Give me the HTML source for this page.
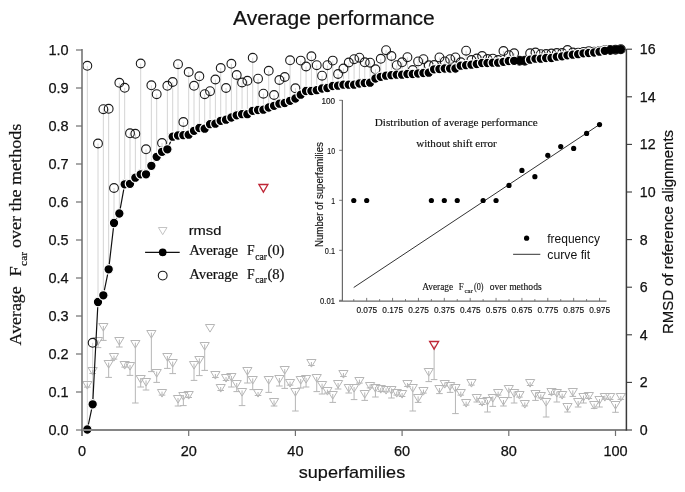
<!DOCTYPE html><html><head><meta charset="utf-8"><style>html,body{margin:0;padding:0;background:#fff;}svg{display:block;will-change:transform;}</style></head><body>
<svg width="685" height="492" viewBox="0 0 685 492">
<rect width="685" height="492" fill="#fff"/>
<text x="233" y="24.6" font-family="Liberation Sans, sans-serif" font-size="19.3" stroke="#111" stroke-width="0.2" textLength="201.8" lengthAdjust="spacingAndGlyphs" fill="#111">Average performance</text>
<g stroke="#d4d4d4" stroke-width="1">
<line x1="87.33" y1="65.8" x2="87.33" y2="429.5"/>
<line x1="92.67" y1="342.8" x2="92.67" y2="404.3"/>
<line x1="98.00" y1="143.5" x2="98.00" y2="302.0"/>
<line x1="103.34" y1="109.2" x2="103.34" y2="295.3"/>
<line x1="108.67" y1="108.8" x2="108.67" y2="269.3"/>
<line x1="114.01" y1="188.0" x2="114.01" y2="223.0"/>
<line x1="119.34" y1="82.8" x2="119.34" y2="213.5"/>
<line x1="124.68" y1="87.8" x2="124.68" y2="184.3"/>
<line x1="130.01" y1="133.3" x2="130.01" y2="183.8"/>
<line x1="135.35" y1="133.8" x2="135.35" y2="177.7"/>
<line x1="140.69" y1="63.5" x2="140.69" y2="174.3"/>
<line x1="146.02" y1="149.3" x2="146.02" y2="174.3"/>
<line x1="151.36" y1="85.3" x2="151.36" y2="165.8"/>
<line x1="156.69" y1="94.2" x2="156.69" y2="156.8"/>
<line x1="162.03" y1="143.0" x2="162.03" y2="151.8"/>
<line x1="167.36" y1="85.8" x2="167.36" y2="149.3"/>
<line x1="172.69" y1="82.0" x2="172.69" y2="136.7"/>
<line x1="178.03" y1="64.2" x2="178.03" y2="135.5"/>
<line x1="183.37" y1="122.0" x2="183.37" y2="135.2"/>
<line x1="188.70" y1="72.0" x2="188.70" y2="134.7"/>
<line x1="194.03" y1="85.8" x2="194.03" y2="130.8"/>
<line x1="199.37" y1="76.3" x2="199.37" y2="128.0"/>
<line x1="204.70" y1="94.2" x2="204.70" y2="128.7"/>
<line x1="210.04" y1="91.2" x2="210.04" y2="124.2"/>
<line x1="215.38" y1="79.5" x2="215.38" y2="123.7"/>
<line x1="220.71" y1="68.0" x2="220.71" y2="120.8"/>
<line x1="226.04" y1="88.0" x2="226.04" y2="119.7"/>
<line x1="231.38" y1="63.8" x2="231.38" y2="117.5"/>
<line x1="236.72" y1="75.0" x2="236.72" y2="115.3"/>
<line x1="242.05" y1="82.5" x2="242.05" y2="114.2"/>
<line x1="247.38" y1="80.8" x2="247.38" y2="114.2"/>
<line x1="252.72" y1="57.8" x2="252.72" y2="110.8"/>
<line x1="258.06" y1="78.7" x2="258.06" y2="110.0"/>
<line x1="263.39" y1="93.7" x2="263.39" y2="109.7"/>
<line x1="268.73" y1="70.8" x2="268.73" y2="107.5"/>
<line x1="274.06" y1="95.0" x2="274.06" y2="105.8"/>
<line x1="279.39" y1="80.0" x2="279.39" y2="103.7"/>
<line x1="284.73" y1="77.0" x2="284.73" y2="103.0"/>
<line x1="290.06" y1="60.3" x2="290.06" y2="100.8"/>
<line x1="295.40" y1="88.3" x2="295.40" y2="98.5"/>
<line x1="300.74" y1="60.6" x2="300.74" y2="94.7"/>
<line x1="306.07" y1="66.5" x2="306.07" y2="91.0"/>
<line x1="311.40" y1="56.3" x2="311.40" y2="91.0"/>
<line x1="316.74" y1="65.2" x2="316.74" y2="90.2"/>
<line x1="322.07" y1="75.7" x2="322.07" y2="88.5"/>
<line x1="327.41" y1="65.2" x2="327.41" y2="88.0"/>
<line x1="332.75" y1="60.6" x2="332.75" y2="86.0"/>
<line x1="338.08" y1="74.0" x2="338.08" y2="85.7"/>
<line x1="343.42" y1="68.5" x2="343.42" y2="84.7"/>
<line x1="348.75" y1="62.5" x2="348.75" y2="84.7"/>
<line x1="354.08" y1="59.2" x2="354.08" y2="84.7"/>
<line x1="359.42" y1="57.7" x2="359.42" y2="83.5"/>
<line x1="364.75" y1="62.3" x2="364.75" y2="83.0"/>
<line x1="370.09" y1="62.7" x2="370.09" y2="82.7"/>
<line x1="375.43" y1="69.3" x2="375.43" y2="78.5"/>
<line x1="380.76" y1="58.8" x2="380.76" y2="76.8"/>
<line x1="386.09" y1="50.2" x2="386.09" y2="75.7"/>
<line x1="391.43" y1="56.0" x2="391.43" y2="75.2"/>
<line x1="396.76" y1="65.2" x2="396.76" y2="74.7"/>
<line x1="402.10" y1="62.3" x2="402.10" y2="74.7"/>
<line x1="407.44" y1="57.2" x2="407.44" y2="74.0"/>
<line x1="412.77" y1="70.0" x2="412.77" y2="74.0"/>
<line x1="418.11" y1="61.4" x2="418.11" y2="73.5"/>
<line x1="423.44" y1="59.2" x2="423.44" y2="73.0"/>
<line x1="428.77" y1="65.3" x2="428.77" y2="72.7"/>
<line x1="434.11" y1="65.0" x2="434.11" y2="69.3"/>
<line x1="439.44" y1="57.4" x2="439.44" y2="69.0"/>
<line x1="444.78" y1="61.4" x2="444.78" y2="68.5"/>
<line x1="450.12" y1="59.2" x2="450.12" y2="68.5"/>
<line x1="455.45" y1="57.4" x2="455.45" y2="68.5"/>
<line x1="460.79" y1="62.3" x2="460.79" y2="65.7"/>
<line x1="466.12" y1="50.7" x2="466.12" y2="65.2"/>
<line x1="471.45" y1="60.0" x2="471.45" y2="64.7"/>
<line x1="476.79" y1="58.5" x2="476.79" y2="64.0"/>
<line x1="482.12" y1="56.0" x2="482.12" y2="63.0"/>
<line x1="487.46" y1="59.0" x2="487.46" y2="63.0"/>
<line x1="492.80" y1="58.6" x2="492.80" y2="62.7"/>
<line x1="498.13" y1="60.0" x2="498.13" y2="62.7"/>
<line x1="503.46" y1="51.0" x2="503.46" y2="61.8"/>
<line x1="508.80" y1="55.2" x2="508.80" y2="61.0"/>
<line x1="514.13" y1="53.3" x2="514.13" y2="60.8"/>
<line x1="519.47" y1="60.8" x2="519.47" y2="60.8"/>
<line x1="524.81" y1="60.8" x2="524.81" y2="60.8"/>
<line x1="530.14" y1="53.3" x2="530.14" y2="59.7"/>
<line x1="535.48" y1="52.5" x2="535.48" y2="58.7"/>
<line x1="540.81" y1="54.2" x2="540.81" y2="58.7"/>
<line x1="546.14" y1="54.0" x2="546.14" y2="58.0"/>
<line x1="551.48" y1="53.5" x2="551.48" y2="58.0"/>
<line x1="556.82" y1="53.0" x2="556.82" y2="56.7"/>
<line x1="562.15" y1="53.0" x2="562.15" y2="56.3"/>
<line x1="567.49" y1="50.0" x2="567.49" y2="55.3"/>
<line x1="572.82" y1="52.5" x2="572.82" y2="54.7"/>
<line x1="578.15" y1="52.6" x2="578.15" y2="54.2"/>
<line x1="583.49" y1="52.0" x2="583.49" y2="53.3"/>
<line x1="588.83" y1="51.1" x2="588.83" y2="53.0"/>
<line x1="594.16" y1="51.6" x2="594.16" y2="52.5"/>
<line x1="599.50" y1="51.0" x2="599.50" y2="51.7"/>
<line x1="604.83" y1="50.2" x2="604.83" y2="50.8"/>
<line x1="610.16" y1="50.0" x2="610.16" y2="50.0"/>
<line x1="615.50" y1="49.7" x2="615.50" y2="49.7"/>
<line x1="620.84" y1="49.2" x2="620.84" y2="49.2"/>
</g>
<g stroke="#b6b6b6" stroke-width="1" fill="none">
<line x1="87.33" y1="383.6" x2="87.33" y2="387.1"/>
<line x1="84.03" y1="387.1" x2="90.63" y2="387.1"/>
<path d="M82.73,381.50L91.93,381.50L87.33,389.10Z"/>
<line x1="92.67" y1="370.0" x2="92.67" y2="373.5"/>
<line x1="89.37" y1="373.5" x2="95.97" y2="373.5"/>
<path d="M88.07,367.50L97.27,367.50L92.67,375.10Z"/>
<line x1="98.00" y1="340.0" x2="98.00" y2="347.6"/>
<line x1="94.70" y1="347.6" x2="101.30" y2="347.6"/>
<path d="M93.41,337.50L102.60,337.50L98.00,345.10Z"/>
<line x1="103.34" y1="326.0" x2="103.34" y2="340.4"/>
<line x1="100.04" y1="340.4" x2="106.64" y2="340.4"/>
<path d="M98.74,323.50L107.94,323.50L103.34,331.10Z"/>
<line x1="108.67" y1="362.6" x2="108.67" y2="377.4"/>
<line x1="105.38" y1="377.4" x2="111.97" y2="377.4"/>
<path d="M104.08,360.50L113.27,360.50L108.67,368.10Z"/>
<line x1="114.01" y1="355.6" x2="114.01" y2="359.1"/>
<line x1="110.71" y1="359.1" x2="117.31" y2="359.1"/>
<path d="M109.41,353.50L118.61,353.50L114.01,361.10Z"/>
<line x1="119.34" y1="339.6" x2="119.34" y2="347.0"/>
<line x1="116.05" y1="347.0" x2="122.64" y2="347.0"/>
<path d="M114.75,337.50L123.94,337.50L119.34,345.10Z"/>
<line x1="124.68" y1="363.6" x2="124.68" y2="367.1"/>
<line x1="121.38" y1="367.1" x2="127.98" y2="367.1"/>
<path d="M120.08,361.50L129.28,361.50L124.68,369.10Z"/>
<line x1="130.01" y1="365.0" x2="130.01" y2="375.4"/>
<line x1="126.71" y1="375.4" x2="133.31" y2="375.4"/>
<path d="M125.41,362.50L134.61,362.50L130.01,370.10Z"/>
<line x1="135.35" y1="342.6" x2="135.35" y2="403.0"/>
<line x1="132.05" y1="403.0" x2="138.65" y2="403.0"/>
<path d="M130.75,340.50L139.95,340.50L135.35,348.10Z"/>
<line x1="140.69" y1="378.0" x2="140.69" y2="387.0"/>
<line x1="137.38" y1="387.0" x2="143.99" y2="387.0"/>
<path d="M136.09,375.50L145.28,375.50L140.69,383.10Z"/>
<line x1="146.02" y1="380.4" x2="146.02" y2="390.0"/>
<line x1="142.72" y1="390.0" x2="149.32" y2="390.0"/>
<path d="M141.42,378.50L150.62,378.50L146.02,386.10Z"/>
<line x1="151.36" y1="332.6" x2="151.36" y2="371.6"/>
<line x1="148.06" y1="371.6" x2="154.66" y2="371.6"/>
<path d="M146.76,330.50L155.96,330.50L151.36,338.10Z"/>
<line x1="156.69" y1="371.6" x2="156.69" y2="382.4"/>
<line x1="153.39" y1="382.4" x2="159.99" y2="382.4"/>
<path d="M152.09,369.50L161.29,369.50L156.69,377.10Z"/>
<line x1="162.03" y1="391.6" x2="162.03" y2="395.1"/>
<line x1="158.72" y1="395.1" x2="165.33" y2="395.1"/>
<path d="M157.43,389.50L166.62,389.50L162.03,397.10Z"/>
<line x1="167.36" y1="356.0" x2="167.36" y2="368.4"/>
<line x1="164.06" y1="368.4" x2="170.66" y2="368.4"/>
<path d="M162.76,353.50L171.96,353.50L167.36,361.10Z"/>
<line x1="172.69" y1="361.6" x2="172.69" y2="373.6"/>
<line x1="169.39" y1="373.6" x2="176.00" y2="373.6"/>
<path d="M168.09,359.50L177.29,359.50L172.69,367.10Z"/>
<line x1="178.03" y1="398.0" x2="178.03" y2="406.0"/>
<line x1="174.73" y1="406.0" x2="181.33" y2="406.0"/>
<path d="M173.43,395.50L182.63,395.50L178.03,403.10Z"/>
<line x1="183.37" y1="395.0" x2="183.37" y2="405.6"/>
<line x1="180.06" y1="405.6" x2="186.67" y2="405.6"/>
<path d="M178.77,392.50L187.97,392.50L183.37,400.10Z"/>
<line x1="188.70" y1="394.0" x2="188.70" y2="397.5"/>
<line x1="185.40" y1="397.5" x2="192.00" y2="397.5"/>
<path d="M184.10,391.50L193.30,391.50L188.70,399.10Z"/>
<line x1="194.03" y1="363.6" x2="194.03" y2="380.4"/>
<line x1="190.73" y1="380.4" x2="197.34" y2="380.4"/>
<path d="M189.44,361.50L198.63,361.50L194.03,369.10Z"/>
<line x1="199.37" y1="358.4" x2="199.37" y2="375.6"/>
<line x1="196.07" y1="375.6" x2="202.67" y2="375.6"/>
<path d="M194.77,356.50L203.97,356.50L199.37,364.10Z"/>
<line x1="204.70" y1="344.4" x2="204.70" y2="370.4"/>
<line x1="201.40" y1="370.4" x2="208.00" y2="370.4"/>
<path d="M200.10,342.50L209.30,342.50L204.70,350.10Z"/>
<path d="M205.44,324.50L214.64,324.50L210.04,332.10Z"/>
<line x1="215.38" y1="374.0" x2="215.38" y2="377.5"/>
<line x1="212.07" y1="377.5" x2="218.68" y2="377.5"/>
<path d="M210.78,371.50L219.97,371.50L215.38,379.10Z"/>
<line x1="220.71" y1="387.0" x2="220.71" y2="390.5"/>
<line x1="217.41" y1="390.5" x2="224.01" y2="390.5"/>
<path d="M216.11,384.50L225.31,384.50L220.71,392.10Z"/>
<line x1="226.04" y1="377.0" x2="226.04" y2="380.5"/>
<line x1="222.74" y1="380.5" x2="229.34" y2="380.5"/>
<path d="M221.44,374.50L230.64,374.50L226.04,382.10Z"/>
<line x1="231.38" y1="376.0" x2="231.38" y2="387.0"/>
<line x1="228.08" y1="387.0" x2="234.68" y2="387.0"/>
<path d="M226.78,373.50L235.98,373.50L231.38,381.10Z"/>
<line x1="236.72" y1="383.0" x2="236.72" y2="391.6"/>
<line x1="233.41" y1="391.6" x2="240.02" y2="391.6"/>
<path d="M232.12,380.50L241.31,380.50L236.72,388.10Z"/>
<line x1="242.05" y1="390.4" x2="242.05" y2="405.6"/>
<line x1="238.75" y1="405.6" x2="245.35" y2="405.6"/>
<path d="M237.45,388.50L246.65,388.50L242.05,396.10Z"/>
<line x1="247.38" y1="369.6" x2="247.38" y2="383.0"/>
<line x1="244.08" y1="383.0" x2="250.69" y2="383.0"/>
<path d="M242.78,367.50L251.98,367.50L247.38,375.10Z"/>
<line x1="252.72" y1="378.4" x2="252.72" y2="389.6"/>
<line x1="249.42" y1="389.6" x2="256.02" y2="389.6"/>
<path d="M248.12,376.50L257.32,376.50L252.72,384.10Z"/>
<line x1="258.06" y1="392.0" x2="258.06" y2="395.5"/>
<line x1="254.75" y1="395.5" x2="261.36" y2="395.5"/>
<path d="M253.46,389.50L262.66,389.50L258.06,397.10Z"/>
<line x1="268.73" y1="379.0" x2="268.73" y2="392.4"/>
<line x1="265.43" y1="392.4" x2="272.03" y2="392.4"/>
<path d="M264.12,376.50L273.33,376.50L268.73,384.10Z"/>
<line x1="274.06" y1="400.4" x2="274.06" y2="406.0"/>
<line x1="270.76" y1="406.0" x2="277.36" y2="406.0"/>
<path d="M269.46,398.50L278.66,398.50L274.06,406.10Z"/>
<line x1="279.39" y1="378.0" x2="279.39" y2="386.0"/>
<line x1="276.09" y1="386.0" x2="282.69" y2="386.0"/>
<path d="M274.79,375.50L284.00,375.50L279.39,383.10Z"/>
<line x1="284.73" y1="369.0" x2="284.73" y2="388.4"/>
<line x1="281.43" y1="388.4" x2="288.03" y2="388.4"/>
<path d="M280.13,366.50L289.33,366.50L284.73,374.10Z"/>
<line x1="290.06" y1="381.6" x2="290.06" y2="385.1"/>
<line x1="286.76" y1="385.1" x2="293.37" y2="385.1"/>
<path d="M285.46,379.50L294.67,379.50L290.06,387.10Z"/>
<line x1="295.40" y1="391.0" x2="295.40" y2="411.0"/>
<line x1="292.10" y1="411.0" x2="298.70" y2="411.0"/>
<path d="M290.80,388.50L300.00,388.50L295.40,396.10Z"/>
<line x1="300.74" y1="379.0" x2="300.74" y2="388.0"/>
<line x1="297.44" y1="388.0" x2="304.04" y2="388.0"/>
<path d="M296.13,376.50L305.34,376.50L300.74,384.10Z"/>
<line x1="306.07" y1="378.0" x2="306.07" y2="387.0"/>
<line x1="302.77" y1="387.0" x2="309.37" y2="387.0"/>
<path d="M301.47,375.50L310.67,375.50L306.07,383.10Z"/>
<line x1="311.40" y1="362.0" x2="311.40" y2="365.5"/>
<line x1="308.10" y1="365.5" x2="314.70" y2="365.5"/>
<path d="M306.80,359.50L316.00,359.50L311.40,367.10Z"/>
<line x1="316.74" y1="377.0" x2="316.74" y2="391.6"/>
<line x1="313.44" y1="391.6" x2="320.04" y2="391.6"/>
<path d="M312.14,374.50L321.34,374.50L316.74,382.10Z"/>
<line x1="322.07" y1="383.6" x2="322.07" y2="394.0"/>
<line x1="318.77" y1="394.0" x2="325.38" y2="394.0"/>
<path d="M317.47,381.50L326.68,381.50L322.07,389.10Z"/>
<line x1="327.41" y1="389.6" x2="327.41" y2="393.1"/>
<line x1="324.11" y1="393.1" x2="330.71" y2="393.1"/>
<path d="M322.81,387.50L332.01,387.50L327.41,395.10Z"/>
<line x1="332.75" y1="394.0" x2="332.75" y2="402.4"/>
<line x1="329.44" y1="402.4" x2="336.05" y2="402.4"/>
<path d="M328.14,391.50L337.35,391.50L332.75,399.10Z"/>
<line x1="338.08" y1="383.0" x2="338.08" y2="389.0"/>
<line x1="334.78" y1="389.0" x2="341.38" y2="389.0"/>
<path d="M333.48,380.50L342.68,380.50L338.08,388.10Z"/>
<line x1="343.42" y1="373.0" x2="343.42" y2="376.5"/>
<line x1="340.12" y1="376.5" x2="346.72" y2="376.5"/>
<path d="M338.81,370.50L348.02,370.50L343.42,378.10Z"/>
<line x1="348.75" y1="386.4" x2="348.75" y2="393.0"/>
<line x1="345.45" y1="393.0" x2="352.05" y2="393.0"/>
<path d="M344.15,384.50L353.35,384.50L348.75,392.10Z"/>
<line x1="354.08" y1="387.0" x2="354.08" y2="399.6"/>
<line x1="350.78" y1="399.6" x2="357.38" y2="399.6"/>
<path d="M349.48,384.50L358.69,384.50L354.08,392.10Z"/>
<line x1="359.42" y1="379.6" x2="359.42" y2="383.1"/>
<line x1="356.12" y1="383.1" x2="362.72" y2="383.1"/>
<path d="M354.82,377.50L364.02,377.50L359.42,385.10Z"/>
<line x1="364.75" y1="392.4" x2="364.75" y2="400.4"/>
<line x1="361.45" y1="400.4" x2="368.06" y2="400.4"/>
<path d="M360.15,390.50L369.36,390.50L364.75,398.10Z"/>
<line x1="370.09" y1="384.4" x2="370.09" y2="387.9"/>
<line x1="366.79" y1="387.9" x2="373.39" y2="387.9"/>
<path d="M365.49,382.50L374.69,382.50L370.09,390.10Z"/>
<line x1="375.43" y1="387.0" x2="375.43" y2="397.0"/>
<line x1="372.12" y1="397.0" x2="378.73" y2="397.0"/>
<path d="M370.82,384.50L380.03,384.50L375.43,392.10Z"/>
<line x1="380.76" y1="388.0" x2="380.76" y2="391.5"/>
<line x1="377.46" y1="391.5" x2="384.06" y2="391.5"/>
<path d="M376.16,385.50L385.36,385.50L380.76,393.10Z"/>
<line x1="386.09" y1="388.4" x2="386.09" y2="391.9"/>
<line x1="382.79" y1="391.9" x2="389.39" y2="391.9"/>
<path d="M381.49,386.50L390.69,386.50L386.09,394.10Z"/>
<line x1="391.43" y1="388.4" x2="391.43" y2="398.0"/>
<line x1="388.13" y1="398.0" x2="394.73" y2="398.0"/>
<path d="M386.83,386.50L396.03,386.50L391.43,394.10Z"/>
<line x1="396.76" y1="391.6" x2="396.76" y2="395.1"/>
<line x1="393.46" y1="395.1" x2="400.06" y2="395.1"/>
<path d="M392.16,389.50L401.37,389.50L396.76,397.10Z"/>
<line x1="402.10" y1="393.0" x2="402.10" y2="396.5"/>
<line x1="398.80" y1="396.5" x2="405.40" y2="396.5"/>
<path d="M397.50,390.50L406.70,390.50L402.10,398.10Z"/>
<line x1="407.44" y1="383.0" x2="407.44" y2="386.5"/>
<line x1="404.13" y1="386.5" x2="410.74" y2="386.5"/>
<path d="M402.83,380.50L412.04,380.50L407.44,388.10Z"/>
<line x1="412.77" y1="386.4" x2="412.77" y2="411.0"/>
<line x1="409.47" y1="411.0" x2="416.07" y2="411.0"/>
<path d="M408.17,384.50L417.37,384.50L412.77,392.10Z"/>
<line x1="418.11" y1="396.4" x2="418.11" y2="402.4"/>
<line x1="414.81" y1="402.4" x2="421.41" y2="402.4"/>
<path d="M413.50,394.50L422.71,394.50L418.11,402.10Z"/>
<line x1="423.44" y1="389.6" x2="423.44" y2="393.1"/>
<line x1="420.14" y1="393.1" x2="426.74" y2="393.1"/>
<path d="M418.84,387.50L428.04,387.50L423.44,395.10Z"/>
<line x1="428.77" y1="371.0" x2="428.77" y2="381.6"/>
<line x1="425.47" y1="381.6" x2="432.07" y2="381.6"/>
<path d="M424.17,368.50L433.38,368.50L428.77,376.10Z"/>
<line x1="439.44" y1="388.0" x2="439.44" y2="393.6"/>
<line x1="436.14" y1="393.6" x2="442.75" y2="393.6"/>
<path d="M434.84,385.50L444.05,385.50L439.44,393.10Z"/>
<line x1="444.78" y1="382.4" x2="444.78" y2="385.9"/>
<line x1="441.48" y1="385.9" x2="448.08" y2="385.9"/>
<path d="M440.18,380.50L449.38,380.50L444.78,388.10Z"/>
<line x1="450.12" y1="384.4" x2="450.12" y2="392.4"/>
<line x1="446.81" y1="392.4" x2="453.42" y2="392.4"/>
<path d="M445.51,382.50L454.72,382.50L450.12,390.10Z"/>
<line x1="455.45" y1="386.4" x2="455.45" y2="413.6"/>
<line x1="452.15" y1="413.6" x2="458.75" y2="413.6"/>
<path d="M450.85,384.50L460.05,384.50L455.45,392.10Z"/>
<line x1="460.79" y1="391.6" x2="460.79" y2="395.1"/>
<line x1="457.49" y1="395.1" x2="464.09" y2="395.1"/>
<path d="M456.19,389.50L465.39,389.50L460.79,397.10Z"/>
<line x1="466.12" y1="401.6" x2="466.12" y2="405.1"/>
<line x1="462.82" y1="405.1" x2="469.42" y2="405.1"/>
<path d="M461.52,399.50L470.72,399.50L466.12,407.10Z"/>
<line x1="471.45" y1="381.6" x2="471.45" y2="385.1"/>
<line x1="468.15" y1="385.1" x2="474.75" y2="385.1"/>
<path d="M466.85,379.50L476.06,379.50L471.45,387.10Z"/>
<line x1="476.79" y1="396.4" x2="476.79" y2="402.0"/>
<line x1="473.49" y1="402.0" x2="480.09" y2="402.0"/>
<path d="M472.19,394.50L481.39,394.50L476.79,402.10Z"/>
<line x1="482.12" y1="401.0" x2="482.12" y2="404.5"/>
<line x1="478.82" y1="404.5" x2="485.43" y2="404.5"/>
<path d="M477.52,398.50L486.73,398.50L482.12,406.10Z"/>
<line x1="487.46" y1="400.0" x2="487.46" y2="412.0"/>
<line x1="484.16" y1="412.0" x2="490.76" y2="412.0"/>
<path d="M482.86,397.50L492.06,397.50L487.46,405.10Z"/>
<line x1="492.80" y1="396.4" x2="492.80" y2="406.4"/>
<line x1="489.50" y1="406.4" x2="496.10" y2="406.4"/>
<path d="M488.19,394.50L497.40,394.50L492.80,402.10Z"/>
<line x1="498.13" y1="391.6" x2="498.13" y2="395.1"/>
<line x1="494.83" y1="395.1" x2="501.43" y2="395.1"/>
<path d="M493.53,389.50L502.73,389.50L498.13,397.10Z"/>
<line x1="503.46" y1="400.0" x2="503.46" y2="406.0"/>
<line x1="500.16" y1="406.0" x2="506.76" y2="406.0"/>
<path d="M498.86,397.50L508.06,397.50L503.46,405.10Z"/>
<line x1="508.80" y1="387.6" x2="508.80" y2="397.6"/>
<line x1="505.50" y1="397.6" x2="512.10" y2="397.6"/>
<path d="M504.20,385.50L513.40,385.50L508.80,393.10Z"/>
<line x1="514.13" y1="391.6" x2="514.13" y2="403.0"/>
<line x1="510.83" y1="403.0" x2="517.43" y2="403.0"/>
<path d="M509.53,389.50L518.74,389.50L514.13,397.10Z"/>
<line x1="519.47" y1="393.6" x2="519.47" y2="397.1"/>
<line x1="516.17" y1="397.1" x2="522.77" y2="397.1"/>
<path d="M514.87,391.50L524.07,391.50L519.47,399.10Z"/>
<line x1="524.81" y1="402.4" x2="524.81" y2="405.9"/>
<line x1="521.51" y1="405.9" x2="528.11" y2="405.9"/>
<path d="M520.21,400.50L529.41,400.50L524.81,408.10Z"/>
<line x1="530.14" y1="382.0" x2="530.14" y2="385.5"/>
<line x1="526.84" y1="385.5" x2="533.44" y2="385.5"/>
<path d="M525.54,379.50L534.74,379.50L530.14,387.10Z"/>
<line x1="535.48" y1="392.4" x2="535.48" y2="400.4"/>
<line x1="532.18" y1="400.4" x2="538.77" y2="400.4"/>
<path d="M530.88,390.50L540.08,390.50L535.48,398.10Z"/>
<line x1="540.81" y1="394.4" x2="540.81" y2="397.9"/>
<line x1="537.51" y1="397.9" x2="544.11" y2="397.9"/>
<path d="M536.21,392.50L545.41,392.50L540.81,400.10Z"/>
<line x1="546.14" y1="400.6" x2="546.14" y2="417.0"/>
<line x1="542.85" y1="417.0" x2="549.44" y2="417.0"/>
<path d="M541.54,398.50L550.75,398.50L546.14,406.10Z"/>
<line x1="551.48" y1="391.0" x2="551.48" y2="394.5"/>
<line x1="548.18" y1="394.5" x2="554.78" y2="394.5"/>
<path d="M546.88,388.50L556.08,388.50L551.48,396.10Z"/>
<line x1="556.82" y1="391.6" x2="556.82" y2="402.0"/>
<line x1="553.52" y1="402.0" x2="560.12" y2="402.0"/>
<path d="M552.22,389.50L561.42,389.50L556.82,397.10Z"/>
<line x1="562.15" y1="393.6" x2="562.15" y2="397.1"/>
<line x1="558.85" y1="397.1" x2="565.45" y2="397.1"/>
<path d="M557.55,391.50L566.75,391.50L562.15,399.10Z"/>
<line x1="567.49" y1="405.6" x2="567.49" y2="412.0"/>
<line x1="564.19" y1="412.0" x2="570.78" y2="412.0"/>
<path d="M562.88,403.50L572.09,403.50L567.49,411.10Z"/>
<line x1="572.82" y1="390.4" x2="572.82" y2="396.4"/>
<line x1="569.52" y1="396.4" x2="576.12" y2="396.4"/>
<path d="M568.22,388.50L577.42,388.50L572.82,396.10Z"/>
<line x1="578.15" y1="401.0" x2="578.15" y2="407.0"/>
<line x1="574.86" y1="407.0" x2="581.45" y2="407.0"/>
<path d="M573.55,398.50L582.75,398.50L578.15,406.10Z"/>
<line x1="583.49" y1="395.6" x2="583.49" y2="403.0"/>
<line x1="580.19" y1="403.0" x2="586.79" y2="403.0"/>
<path d="M578.89,393.50L588.09,393.50L583.49,401.10Z"/>
<line x1="588.83" y1="395.0" x2="588.83" y2="398.5"/>
<line x1="585.53" y1="398.5" x2="592.12" y2="398.5"/>
<path d="M584.23,392.50L593.43,392.50L588.83,400.10Z"/>
<line x1="594.16" y1="403.6" x2="594.16" y2="408.4"/>
<line x1="590.86" y1="408.4" x2="597.46" y2="408.4"/>
<path d="M589.56,401.50L598.76,401.50L594.16,409.10Z"/>
<line x1="599.50" y1="399.0" x2="599.50" y2="407.0"/>
<line x1="596.20" y1="407.0" x2="602.79" y2="407.0"/>
<path d="M594.89,396.50L604.10,396.50L599.50,404.10Z"/>
<line x1="604.83" y1="395.6" x2="604.83" y2="399.1"/>
<line x1="601.53" y1="399.1" x2="608.13" y2="399.1"/>
<path d="M600.23,393.50L609.43,393.50L604.83,401.10Z"/>
<line x1="610.16" y1="396.0" x2="610.16" y2="399.5"/>
<line x1="606.87" y1="399.5" x2="613.46" y2="399.5"/>
<path d="M605.56,393.50L614.76,393.50L610.16,401.10Z"/>
<line x1="615.50" y1="404.0" x2="615.50" y2="412.3"/>
<line x1="612.20" y1="412.3" x2="618.80" y2="412.3"/>
<path d="M610.90,401.50L620.10,401.50L615.50,409.10Z"/>
<line x1="620.84" y1="395.9" x2="620.84" y2="399.4"/>
<line x1="617.54" y1="399.4" x2="624.13" y2="399.4"/>
<path d="M616.24,393.50L625.44,393.50L620.84,401.10Z"/>
</g>
<g stroke="#b6b6b6" stroke-width="1" fill="none">
<line x1="434.11" y1="345.6" x2="434.11" y2="379.6"/>
<line x1="430.81" y1="379.6" x2="437.41" y2="379.6"/>
</g>
<g stroke="#bf2636" stroke-width="1.3" fill="none">
<path d="M258.89,184.50L267.89,184.50L263.39,192.10Z"/>
<path d="M429.61,341.50L438.61,341.50L434.11,349.10Z"/>
</g>
<g stroke="#1a1a1a" stroke-width="1.1" fill="none">
<circle cx="87.33" cy="65.8" r="4.4"/>
<circle cx="92.67" cy="342.8" r="4.4"/>
<circle cx="98.00" cy="143.5" r="4.4"/>
<circle cx="103.34" cy="109.2" r="4.4"/>
<circle cx="108.67" cy="108.8" r="4.4"/>
<circle cx="114.01" cy="188.0" r="4.4"/>
<circle cx="119.34" cy="82.8" r="4.4"/>
<circle cx="124.68" cy="87.8" r="4.4"/>
<circle cx="130.01" cy="133.3" r="4.4"/>
<circle cx="135.35" cy="133.8" r="4.4"/>
<circle cx="140.69" cy="63.5" r="4.4"/>
<circle cx="146.02" cy="149.3" r="4.4"/>
<circle cx="151.36" cy="85.3" r="4.4"/>
<circle cx="156.69" cy="94.2" r="4.4"/>
<circle cx="162.03" cy="143.0" r="4.4"/>
<circle cx="167.36" cy="85.8" r="4.4"/>
<circle cx="172.69" cy="82.0" r="4.4"/>
<circle cx="178.03" cy="64.2" r="4.4"/>
<circle cx="183.37" cy="122.0" r="4.4"/>
<circle cx="188.70" cy="72.0" r="4.4"/>
<circle cx="194.03" cy="85.8" r="4.4"/>
<circle cx="199.37" cy="76.3" r="4.4"/>
<circle cx="204.70" cy="94.2" r="4.4"/>
<circle cx="210.04" cy="91.2" r="4.4"/>
<circle cx="215.38" cy="79.5" r="4.4"/>
<circle cx="220.71" cy="68.0" r="4.4"/>
<circle cx="226.04" cy="88.0" r="4.4"/>
<circle cx="231.38" cy="63.8" r="4.4"/>
<circle cx="236.72" cy="75.0" r="4.4"/>
<circle cx="242.05" cy="82.5" r="4.4"/>
<circle cx="247.38" cy="80.8" r="4.4"/>
<circle cx="252.72" cy="57.8" r="4.4"/>
<circle cx="258.06" cy="78.7" r="4.4"/>
<circle cx="263.39" cy="93.7" r="4.4"/>
<circle cx="268.73" cy="70.8" r="4.4"/>
<circle cx="274.06" cy="95.0" r="4.4"/>
<circle cx="279.39" cy="80.0" r="4.4"/>
<circle cx="284.73" cy="77.0" r="4.4"/>
<circle cx="290.06" cy="60.3" r="4.4"/>
<circle cx="295.40" cy="88.3" r="4.4"/>
<circle cx="300.74" cy="60.6" r="4.4"/>
<circle cx="306.07" cy="66.5" r="4.4"/>
<circle cx="311.40" cy="56.3" r="4.4"/>
<circle cx="316.74" cy="65.2" r="4.4"/>
<circle cx="322.07" cy="75.7" r="4.4"/>
<circle cx="327.41" cy="65.2" r="4.4"/>
<circle cx="332.75" cy="60.6" r="4.4"/>
<circle cx="338.08" cy="74.0" r="4.4"/>
<circle cx="343.42" cy="68.5" r="4.4"/>
<circle cx="348.75" cy="62.5" r="4.4"/>
<circle cx="354.08" cy="59.2" r="4.4"/>
<circle cx="359.42" cy="57.7" r="4.4"/>
<circle cx="364.75" cy="62.3" r="4.4"/>
<circle cx="370.09" cy="62.7" r="4.4"/>
<circle cx="375.43" cy="69.3" r="4.4"/>
<circle cx="380.76" cy="58.8" r="4.4"/>
<circle cx="386.09" cy="50.2" r="4.4"/>
<circle cx="391.43" cy="56.0" r="4.4"/>
<circle cx="396.76" cy="65.2" r="4.4"/>
<circle cx="402.10" cy="62.3" r="4.4"/>
<circle cx="407.44" cy="57.2" r="4.4"/>
<circle cx="412.77" cy="70.0" r="4.4"/>
<circle cx="418.11" cy="61.4" r="4.4"/>
<circle cx="423.44" cy="59.2" r="4.4"/>
<circle cx="428.77" cy="65.3" r="4.4"/>
<circle cx="434.11" cy="65.0" r="4.4"/>
<circle cx="439.44" cy="57.4" r="4.4"/>
<circle cx="444.78" cy="61.4" r="4.4"/>
<circle cx="450.12" cy="59.2" r="4.4"/>
<circle cx="455.45" cy="57.4" r="4.4"/>
<circle cx="460.79" cy="62.3" r="4.4"/>
<circle cx="466.12" cy="50.7" r="4.4"/>
<circle cx="471.45" cy="60.0" r="4.4"/>
<circle cx="476.79" cy="58.5" r="4.4"/>
<circle cx="482.12" cy="56.0" r="4.4"/>
<circle cx="487.46" cy="59.0" r="4.4"/>
<circle cx="492.80" cy="58.6" r="4.4"/>
<circle cx="498.13" cy="60.0" r="4.4"/>
<circle cx="503.46" cy="51.0" r="4.4"/>
<circle cx="508.80" cy="55.2" r="4.4"/>
<circle cx="514.13" cy="53.3" r="4.4"/>
<circle cx="519.47" cy="60.8" r="4.4"/>
<circle cx="524.81" cy="60.8" r="4.4"/>
<circle cx="530.14" cy="53.3" r="4.4"/>
<circle cx="535.48" cy="52.5" r="4.4"/>
<circle cx="540.81" cy="54.2" r="4.4"/>
<circle cx="546.14" cy="54.0" r="4.4"/>
<circle cx="551.48" cy="53.5" r="4.4"/>
<circle cx="556.82" cy="53.0" r="4.4"/>
<circle cx="562.15" cy="53.0" r="4.4"/>
<circle cx="567.49" cy="50.0" r="4.4"/>
<circle cx="572.82" cy="52.5" r="4.4"/>
<circle cx="578.15" cy="52.6" r="4.4"/>
<circle cx="583.49" cy="52.0" r="4.4"/>
<circle cx="588.83" cy="51.1" r="4.4"/>
<circle cx="594.16" cy="51.6" r="4.4"/>
<circle cx="599.50" cy="51.0" r="4.4"/>
<circle cx="604.83" cy="50.2" r="4.4"/>
<circle cx="610.16" cy="50.0" r="4.4"/>
<circle cx="615.50" cy="49.7" r="4.4"/>
<circle cx="620.84" cy="49.2" r="4.4"/>
</g>
<polyline points="87.33,429.5 92.67,404.3 98.00,302.0 103.34,295.3 108.67,269.3 114.01,223.0 119.34,213.5 124.68,184.3 130.01,183.8 135.35,177.7 140.69,174.3 146.02,174.3 151.36,165.8 156.69,156.8 162.03,151.8 167.36,149.3 172.69,136.7 178.03,135.5 183.37,135.2 188.70,134.7 194.03,130.8 199.37,128.0 204.70,128.7 210.04,124.2 215.38,123.7 220.71,120.8 226.04,119.7 231.38,117.5 236.72,115.3 242.05,114.2 247.38,114.2 252.72,110.8 258.06,110.0 263.39,109.7 268.73,107.5 274.06,105.8 279.39,103.7 284.73,103.0 290.06,100.8 295.40,98.5 300.74,94.7 306.07,91.0 311.40,91.0 316.74,90.2 322.07,88.5 327.41,88.0 332.75,86.0 338.08,85.7 343.42,84.7 348.75,84.7 354.08,84.7 359.42,83.5 364.75,83.0 370.09,82.7 375.43,78.5 380.76,76.8 386.09,75.7 391.43,75.2 396.76,74.7 402.10,74.7 407.44,74.0 412.77,74.0 418.11,73.5 423.44,73.0 428.77,72.7 434.11,69.3 439.44,69.0 444.78,68.5 450.12,68.5 455.45,68.5 460.79,65.7 466.12,65.2 471.45,64.7 476.79,64.0 482.12,63.0 487.46,63.0 492.80,62.7 498.13,62.7 503.46,61.8 508.80,61.0 514.13,60.8 519.47,60.8 524.81,60.8 530.14,59.7 535.48,58.7 540.81,58.7 546.14,58.0 551.48,58.0 556.82,56.7 562.15,56.3 567.49,55.3 572.82,54.7 578.15,54.2 583.49,53.3 588.83,53.0 594.16,52.5 599.50,51.7 604.83,50.8 610.16,50.0 615.50,49.7 620.84,49.2" fill="none" stroke="#111" stroke-width="1.2"/>
<g fill="#000">
<circle cx="87.33" cy="429.5" r="4.75" stroke="#fff" stroke-width="1.2"/>
<circle cx="92.67" cy="404.3" r="4.75" stroke="#fff" stroke-width="1.2"/>
<circle cx="98.00" cy="302.0" r="4.75" stroke="#fff" stroke-width="1.2"/>
<circle cx="103.34" cy="295.3" r="4.75" stroke="#fff" stroke-width="1.2"/>
<circle cx="108.67" cy="269.3" r="4.75" stroke="#fff" stroke-width="1.2"/>
<circle cx="114.01" cy="223.0" r="4.75" stroke="#fff" stroke-width="1.2"/>
<circle cx="119.34" cy="213.5" r="4.75" stroke="#fff" stroke-width="1.2"/>
<circle cx="124.68" cy="184.3" r="4.75" stroke="#fff" stroke-width="1.2"/>
<circle cx="130.01" cy="183.8" r="4.75" stroke="#fff" stroke-width="1.2"/>
<circle cx="135.35" cy="177.7" r="4.75" stroke="#fff" stroke-width="1.2"/>
<circle cx="140.69" cy="174.3" r="4.75" stroke="#fff" stroke-width="1.2"/>
<circle cx="146.02" cy="174.3" r="4.75" stroke="#fff" stroke-width="1.2"/>
<circle cx="151.36" cy="165.8" r="4.75" stroke="#fff" stroke-width="1.2"/>
<circle cx="156.69" cy="156.8" r="4.75" stroke="#fff" stroke-width="1.2"/>
<circle cx="162.03" cy="151.8" r="4.75" stroke="#fff" stroke-width="1.2"/>
<circle cx="167.36" cy="149.3" r="4.75" stroke="#fff" stroke-width="1.2"/>
<circle cx="172.69" cy="136.7" r="4.75" stroke="#fff" stroke-width="1.2"/>
<circle cx="178.03" cy="135.5" r="4.75" stroke="#fff" stroke-width="1.2"/>
<circle cx="183.37" cy="135.2" r="4.75" stroke="#fff" stroke-width="1.2"/>
<circle cx="188.70" cy="134.7" r="4.75" stroke="#fff" stroke-width="1.2"/>
<circle cx="194.03" cy="130.8" r="4.75" stroke="#fff" stroke-width="1.2"/>
<circle cx="199.37" cy="128.0" r="4.75" stroke="#fff" stroke-width="1.2"/>
<circle cx="204.70" cy="128.7" r="4.75" stroke="#fff" stroke-width="1.2"/>
<circle cx="210.04" cy="124.2" r="4.75" stroke="#fff" stroke-width="1.2"/>
<circle cx="215.38" cy="123.7" r="4.75" stroke="#fff" stroke-width="1.2"/>
<circle cx="220.71" cy="120.8" r="4.75" stroke="#fff" stroke-width="1.2"/>
<circle cx="226.04" cy="119.7" r="4.75" stroke="#fff" stroke-width="1.2"/>
<circle cx="231.38" cy="117.5" r="4.75" stroke="#fff" stroke-width="1.2"/>
<circle cx="236.72" cy="115.3" r="4.75" stroke="#fff" stroke-width="1.2"/>
<circle cx="242.05" cy="114.2" r="4.75" stroke="#fff" stroke-width="1.2"/>
<circle cx="247.38" cy="114.2" r="4.75" stroke="#fff" stroke-width="1.2"/>
<circle cx="252.72" cy="110.8" r="4.75" stroke="#fff" stroke-width="1.2"/>
<circle cx="258.06" cy="110.0" r="4.75" stroke="#fff" stroke-width="1.2"/>
<circle cx="263.39" cy="109.7" r="4.75" stroke="#fff" stroke-width="1.2"/>
<circle cx="268.73" cy="107.5" r="4.75" stroke="#fff" stroke-width="1.2"/>
<circle cx="274.06" cy="105.8" r="4.75" stroke="#fff" stroke-width="1.2"/>
<circle cx="279.39" cy="103.7" r="4.75" stroke="#fff" stroke-width="1.2"/>
<circle cx="284.73" cy="103.0" r="4.75" stroke="#fff" stroke-width="1.2"/>
<circle cx="290.06" cy="100.8" r="4.75" stroke="#fff" stroke-width="1.2"/>
<circle cx="295.40" cy="98.5" r="4.75" stroke="#fff" stroke-width="1.2"/>
<circle cx="300.74" cy="94.7" r="4.75" stroke="#fff" stroke-width="1.2"/>
<circle cx="306.07" cy="91.0" r="4.75" stroke="#fff" stroke-width="1.2"/>
<circle cx="311.40" cy="91.0" r="4.75" stroke="#fff" stroke-width="1.2"/>
<circle cx="316.74" cy="90.2" r="4.75" stroke="#fff" stroke-width="1.2"/>
<circle cx="322.07" cy="88.5" r="4.75" stroke="#fff" stroke-width="1.2"/>
<circle cx="327.41" cy="88.0" r="4.75" stroke="#fff" stroke-width="1.2"/>
<circle cx="332.75" cy="86.0" r="4.75" stroke="#fff" stroke-width="1.2"/>
<circle cx="338.08" cy="85.7" r="4.75" stroke="#fff" stroke-width="1.2"/>
<circle cx="343.42" cy="84.7" r="4.75" stroke="#fff" stroke-width="1.2"/>
<circle cx="348.75" cy="84.7" r="4.75" stroke="#fff" stroke-width="1.2"/>
<circle cx="354.08" cy="84.7" r="4.75" stroke="#fff" stroke-width="1.2"/>
<circle cx="359.42" cy="83.5" r="4.75" stroke="#fff" stroke-width="1.2"/>
<circle cx="364.75" cy="83.0" r="4.75" stroke="#fff" stroke-width="1.2"/>
<circle cx="370.09" cy="82.7" r="4.75" stroke="#fff" stroke-width="1.2"/>
<circle cx="375.43" cy="78.5" r="4.75" stroke="#fff" stroke-width="1.2"/>
<circle cx="380.76" cy="76.8" r="4.75" stroke="#fff" stroke-width="1.2"/>
<circle cx="386.09" cy="75.7" r="4.75" stroke="#fff" stroke-width="1.2"/>
<circle cx="391.43" cy="75.2" r="4.75" stroke="#fff" stroke-width="1.2"/>
<circle cx="396.76" cy="74.7" r="4.75" stroke="#fff" stroke-width="1.2"/>
<circle cx="402.10" cy="74.7" r="4.75" stroke="#fff" stroke-width="1.2"/>
<circle cx="407.44" cy="74.0" r="4.75" stroke="#fff" stroke-width="1.2"/>
<circle cx="412.77" cy="74.0" r="4.75" stroke="#fff" stroke-width="1.2"/>
<circle cx="418.11" cy="73.5" r="4.75" stroke="#fff" stroke-width="1.2"/>
<circle cx="423.44" cy="73.0" r="4.75" stroke="#fff" stroke-width="1.2"/>
<circle cx="428.77" cy="72.7" r="4.75" stroke="#fff" stroke-width="1.2"/>
<circle cx="434.11" cy="69.3" r="4.75" stroke="#fff" stroke-width="1.2"/>
<circle cx="439.44" cy="69.0" r="4.75" stroke="#fff" stroke-width="1.2"/>
<circle cx="444.78" cy="68.5" r="4.75" stroke="#fff" stroke-width="1.2"/>
<circle cx="450.12" cy="68.5" r="4.75" stroke="#fff" stroke-width="1.2"/>
<circle cx="455.45" cy="68.5" r="4.75" stroke="#fff" stroke-width="1.2"/>
<circle cx="460.79" cy="65.7" r="4.75" stroke="#fff" stroke-width="1.2"/>
<circle cx="466.12" cy="65.2" r="4.75" stroke="#fff" stroke-width="1.2"/>
<circle cx="471.45" cy="64.7" r="4.75" stroke="#fff" stroke-width="1.2"/>
<circle cx="476.79" cy="64.0" r="4.75" stroke="#fff" stroke-width="1.2"/>
<circle cx="482.12" cy="63.0" r="4.75" stroke="#fff" stroke-width="1.2"/>
<circle cx="487.46" cy="63.0" r="4.75" stroke="#fff" stroke-width="1.2"/>
<circle cx="492.80" cy="62.7" r="4.75" stroke="#fff" stroke-width="1.2"/>
<circle cx="498.13" cy="62.7" r="4.75" stroke="#fff" stroke-width="1.2"/>
<circle cx="503.46" cy="61.8" r="4.75" stroke="#fff" stroke-width="1.2"/>
<circle cx="508.80" cy="61.0" r="4.75" stroke="#fff" stroke-width="1.2"/>
<circle cx="514.13" cy="60.8" r="4.75" stroke="#fff" stroke-width="1.2"/>
<circle cx="519.47" cy="60.8" r="4.15"/>
<circle cx="524.81" cy="60.8" r="4.15"/>
<circle cx="530.14" cy="59.7" r="4.75" stroke="#fff" stroke-width="1.2"/>
<circle cx="535.48" cy="58.7" r="4.75" stroke="#fff" stroke-width="1.2"/>
<circle cx="540.81" cy="58.7" r="4.75" stroke="#fff" stroke-width="1.2"/>
<circle cx="546.14" cy="58.0" r="4.75" stroke="#fff" stroke-width="1.2"/>
<circle cx="551.48" cy="58.0" r="4.75" stroke="#fff" stroke-width="1.2"/>
<circle cx="556.82" cy="56.7" r="4.75" stroke="#fff" stroke-width="1.2"/>
<circle cx="562.15" cy="56.3" r="4.75" stroke="#fff" stroke-width="1.2"/>
<circle cx="567.49" cy="55.3" r="4.75" stroke="#fff" stroke-width="1.2"/>
<circle cx="572.82" cy="54.7" r="4.75" stroke="#fff" stroke-width="1.2"/>
<circle cx="578.15" cy="54.2" r="4.75" stroke="#fff" stroke-width="1.2"/>
<circle cx="583.49" cy="53.3" r="4.75" stroke="#fff" stroke-width="1.2"/>
<circle cx="588.83" cy="53.0" r="4.75" stroke="#fff" stroke-width="1.2"/>
<circle cx="594.16" cy="52.5" r="4.75" stroke="#fff" stroke-width="1.2"/>
<circle cx="599.50" cy="51.7" r="4.75" stroke="#fff" stroke-width="1.2"/>
<circle cx="604.83" cy="50.8" r="4.75" stroke="#fff" stroke-width="1.2"/>
<circle cx="610.16" cy="50.0" r="4.15"/>
<circle cx="615.50" cy="49.7" r="4.15"/>
<circle cx="620.84" cy="49.2" r="4.15"/>
</g>
<g stroke="#858585" stroke-width="1.8" fill="none">
<line x1="82" y1="49" x2="82" y2="436"/>
<line x1="81" y1="430" x2="626" y2="430"/>
</g>
<g stroke="#707070" stroke-width="1.2">
<line x1="76" y1="430.0" x2="82" y2="430.0"/>
<line x1="76" y1="392.0" x2="82" y2="392.0"/>
<line x1="76" y1="354.0" x2="82" y2="354.0"/>
<line x1="76" y1="316.0" x2="82" y2="316.0"/>
<line x1="76" y1="278.0" x2="82" y2="278.0"/>
<line x1="76" y1="240.0" x2="82" y2="240.0"/>
<line x1="76" y1="202.0" x2="82" y2="202.0"/>
<line x1="76" y1="164.0" x2="82" y2="164.0"/>
<line x1="76" y1="126.0" x2="82" y2="126.0"/>
<line x1="76" y1="88.0" x2="82" y2="88.0"/>
<line x1="76" y1="50.0" x2="82" y2="50.0"/>
<line x1="82.0" y1="430" x2="82.0" y2="436"/>
<line x1="188.7" y1="430" x2="188.7" y2="436"/>
<line x1="295.4" y1="430" x2="295.4" y2="436"/>
<line x1="402.1" y1="430" x2="402.1" y2="436"/>
<line x1="508.8" y1="430" x2="508.8" y2="436"/>
<line x1="615.5" y1="430" x2="615.5" y2="436"/>
</g>
<g stroke="#3a3a3a" stroke-width="1.5">
<line x1="626.4" y1="49" x2="626.4" y2="430.8"/>
</g>
<g stroke="#3a3a3a" stroke-width="1.1">
<line x1="626.4" y1="430.0" x2="632" y2="430.0"/>
<line x1="626.4" y1="382.4" x2="632" y2="382.4"/>
<line x1="626.4" y1="334.8" x2="632" y2="334.8"/>
<line x1="626.4" y1="287.2" x2="632" y2="287.2"/>
<line x1="626.4" y1="239.6" x2="632" y2="239.6"/>
<line x1="626.4" y1="192.0" x2="632" y2="192.0"/>
<line x1="626.4" y1="144.4" x2="632" y2="144.4"/>
<line x1="626.4" y1="96.8" x2="632" y2="96.8"/>
<line x1="626.4" y1="49.2" x2="632" y2="49.2"/>
</g>
<g font-family="Liberation Sans, sans-serif" font-size="14.5" fill="#111" stroke="#111" stroke-width="0.25" text-anchor="end">
<text x="68.6" y="435.1">0.0</text>
<text x="68.6" y="397.1">0.1</text>
<text x="68.6" y="359.1">0.2</text>
<text x="68.6" y="321.1">0.3</text>
<text x="68.6" y="283.1">0.4</text>
<text x="68.6" y="245.1">0.5</text>
<text x="68.6" y="207.1">0.6</text>
<text x="68.6" y="169.1">0.7</text>
<text x="68.6" y="131.1">0.8</text>
<text x="68.6" y="93.1">0.9</text>
<text x="68.6" y="55.1">1.0</text>
</g>
<g font-family="Liberation Sans, sans-serif" font-size="14.2" fill="#111" stroke="#111" stroke-width="0.25">
<text x="639.8" y="435.0">0</text>
<text x="639.8" y="387.4">2</text>
<text x="639.8" y="339.8">4</text>
<text x="639.8" y="292.2">6</text>
<text x="639.8" y="244.6">8</text>
<text x="639.8" y="197.0">10</text>
<text x="639.8" y="149.4">12</text>
<text x="639.8" y="101.8">14</text>
<text x="639.8" y="54.2">16</text>
</g>
<g font-family="Liberation Sans, sans-serif" font-size="14.5" fill="#111" stroke="#111" stroke-width="0.25" text-anchor="middle">
<text x="82.0" y="456">0</text>
<text x="188.7" y="456">20</text>
<text x="295.4" y="456">40</text>
<text x="402.1" y="456">60</text>
<text x="508.8" y="456">80</text>
<text x="615.5" y="456">100</text>
</g>
<text x="298.8" y="477.5" font-family="Liberation Sans, sans-serif" font-size="17" stroke="#111" stroke-width="0.2" textLength="106.4" lengthAdjust="spacingAndGlyphs" fill="#111">superfamilies</text>
<text transform="translate(673,334) rotate(-90)" x="0" y="0" font-family="Liberation Sans, sans-serif" font-size="14.6" stroke="#111" stroke-width="0.2" textLength="204" lengthAdjust="spacingAndGlyphs" fill="#111">RMSD of reference alignments</text>
<g transform="rotate(-90)" font-family="Liberation Serif, serif" fill="#111" stroke="#111" stroke-width="0.2">
<text x="-345.4" y="21.4" font-size="16.5" textLength="59" lengthAdjust="spacingAndGlyphs">Average</text>
<text x="-276.6" y="21.4" font-size="16.5" textLength="10.2" lengthAdjust="spacingAndGlyphs">F</text>
<text x="-265.9" y="27" font-size="11.3" textLength="14" lengthAdjust="spacingAndGlyphs">car</text>
<text x="-248" y="21.4" font-size="16.5" textLength="124.2" lengthAdjust="spacingAndGlyphs">over the methods</text>
</g>
<path d="M158.40,227.50L167.00,227.50L162.70,234.70Z" fill="none" stroke="#c4c4c4" stroke-width="1"/>
<text x="188.7" y="235.3" font-family="Liberation Sans, sans-serif" font-size="13.5" stroke="#111" stroke-width="0.2" textLength="32.6" lengthAdjust="spacingAndGlyphs" fill="#111">rmsd</text>
<line x1="145.1" y1="252.3" x2="179.7" y2="252.3" stroke="#111" stroke-width="1.3"/>
<circle cx="162.7" cy="252.3" r="3.9" fill="#000"/>
<circle cx="162.7" cy="275.6" r="4.4" fill="none" stroke="#1a1a1a" stroke-width="1.1"/>
<g font-family="Liberation Serif, serif" fill="#111" stroke="#111" stroke-width="0.2">
<text x="189.2" y="255.3" font-size="13.6" textLength="49" lengthAdjust="spacingAndGlyphs">Average</text>
<text x="246.9" y="255.3" font-size="13.6" textLength="7.6" lengthAdjust="spacingAndGlyphs">F</text>
<text x="255.2" y="259.6" font-size="9.4" textLength="11.7" lengthAdjust="spacingAndGlyphs">car</text>
<text x="267.4" y="255.3" font-size="13.6" textLength="17.1" lengthAdjust="spacingAndGlyphs">(0)</text>
</g>
<g font-family="Liberation Serif, serif" fill="#111" stroke="#111" stroke-width="0.2">
<text x="189.2" y="279.1" font-size="13.6" textLength="49" lengthAdjust="spacingAndGlyphs">Average</text>
<text x="246.9" y="279.1" font-size="13.6" textLength="7.6" lengthAdjust="spacingAndGlyphs">F</text>
<text x="255.2" y="283.4" font-size="9.4" textLength="11.7" lengthAdjust="spacingAndGlyphs">car</text>
<text x="267.4" y="279.1" font-size="13.6" textLength="17.1" lengthAdjust="spacingAndGlyphs">(8)</text>
</g>
<g stroke="#6a6a6a" stroke-width="1.2" fill="none">
<line x1="342.4" y1="100" x2="342.4" y2="301.1"/>
<line x1="339" y1="301.1" x2="606.5" y2="301.1"/>
</g>
<g stroke="#6a6a6a" stroke-width="0.9">
<line x1="339.2" y1="100.3" x2="342.4" y2="100.3"/>
<line x1="339.2" y1="150.3" x2="342.4" y2="150.3"/>
<line x1="339.2" y1="200.3" x2="342.4" y2="200.3"/>
<line x1="339.2" y1="250.3" x2="342.4" y2="250.3"/>
<line x1="339.2" y1="300.3" x2="342.4" y2="300.3"/>
<line x1="353.77" y1="299.1" x2="353.77" y2="301.1"/>
<line x1="366.70" y1="297.9" x2="366.70" y2="301.1"/>
<line x1="379.64" y1="299.1" x2="379.64" y2="301.1"/>
<line x1="392.57" y1="297.9" x2="392.57" y2="301.1"/>
<line x1="405.51" y1="299.1" x2="405.51" y2="301.1"/>
<line x1="418.44" y1="297.9" x2="418.44" y2="301.1"/>
<line x1="431.38" y1="299.1" x2="431.38" y2="301.1"/>
<line x1="444.31" y1="297.9" x2="444.31" y2="301.1"/>
<line x1="457.25" y1="299.1" x2="457.25" y2="301.1"/>
<line x1="470.18" y1="297.9" x2="470.18" y2="301.1"/>
<line x1="483.12" y1="299.1" x2="483.12" y2="301.1"/>
<line x1="496.05" y1="297.9" x2="496.05" y2="301.1"/>
<line x1="508.99" y1="299.1" x2="508.99" y2="301.1"/>
<line x1="521.92" y1="297.9" x2="521.92" y2="301.1"/>
<line x1="534.86" y1="299.1" x2="534.86" y2="301.1"/>
<line x1="547.79" y1="297.9" x2="547.79" y2="301.1"/>
<line x1="560.73" y1="299.1" x2="560.73" y2="301.1"/>
<line x1="573.66" y1="297.9" x2="573.66" y2="301.1"/>
<line x1="586.60" y1="299.1" x2="586.60" y2="301.1"/>
<line x1="599.53" y1="297.9" x2="599.53" y2="301.1"/>
</g>
<g font-family="Liberation Sans, sans-serif" font-size="9" fill="#111" stroke="#111" stroke-width="0.15">
<text x="321.4" y="103.6" textLength="13.6" lengthAdjust="spacingAndGlyphs">100</text>
<text x="327.3" y="153.6" textLength="7.7" lengthAdjust="spacingAndGlyphs">10</text>
<text x="331.2" y="203.6" textLength="3.8" lengthAdjust="spacingAndGlyphs">1</text>
<text x="324.8" y="253.6" textLength="10.2" lengthAdjust="spacingAndGlyphs">0.1</text>
<text x="320.1" y="303.6" textLength="14.9" lengthAdjust="spacingAndGlyphs">0.01</text>
</g>
<g font-family="Liberation Sans, sans-serif" font-size="9" fill="#111" stroke="#111" stroke-width="0.15">
<text x="356.40" y="312.9" textLength="20.8" lengthAdjust="spacingAndGlyphs">0.075</text>
<text x="382.27" y="312.9" textLength="20.8" lengthAdjust="spacingAndGlyphs">0.175</text>
<text x="408.14" y="312.9" textLength="20.8" lengthAdjust="spacingAndGlyphs">0.275</text>
<text x="434.01" y="312.9" textLength="20.8" lengthAdjust="spacingAndGlyphs">0.375</text>
<text x="459.88" y="312.9" textLength="20.8" lengthAdjust="spacingAndGlyphs">0.475</text>
<text x="485.75" y="312.9" textLength="20.8" lengthAdjust="spacingAndGlyphs">0.575</text>
<text x="511.62" y="312.9" textLength="20.8" lengthAdjust="spacingAndGlyphs">0.675</text>
<text x="537.49" y="312.9" textLength="20.8" lengthAdjust="spacingAndGlyphs">0.775</text>
<text x="563.36" y="312.9" textLength="20.8" lengthAdjust="spacingAndGlyphs">0.875</text>
<text x="589.23" y="312.9" textLength="20.8" lengthAdjust="spacingAndGlyphs">0.975</text>
</g>
<text transform="translate(322.6,247) rotate(-90)" font-family="Liberation Sans, sans-serif" font-size="10" stroke="#111" stroke-width="0.15" textLength="104.9" lengthAdjust="spacingAndGlyphs" fill="#111">Number of superfamilies</text>
<text x="374.8" y="126.1" font-family="Liberation Serif, serif" font-size="10.6" stroke="#111" stroke-width="0.15" textLength="163" lengthAdjust="spacingAndGlyphs" fill="#111">Distribution of average performance</text>
<text x="416.2" y="146.7" font-family="Liberation Serif, serif" font-size="10.6" stroke="#111" stroke-width="0.15" textLength="80.6" lengthAdjust="spacingAndGlyphs" fill="#111">without shift error</text>
<g font-family="Liberation Serif, serif" fill="#111" stroke="#111" stroke-width="0.12">
<text x="422.2" y="290.3" font-size="9.6" textLength="30.9" lengthAdjust="spacingAndGlyphs">Average</text>
<text x="458.8" y="290.3" font-size="9.6" textLength="4.9" lengthAdjust="spacingAndGlyphs">F</text>
<text x="464.5" y="292.8" font-size="6.6" textLength="8.4" lengthAdjust="spacingAndGlyphs">car</text>
<text x="474" y="290.3" font-size="9.6" textLength="9.5" lengthAdjust="spacingAndGlyphs">(0)</text>
<text x="489.7" y="290.3" font-size="9.6" textLength="52" lengthAdjust="spacingAndGlyphs">over methods</text>
</g>
<line x1="353.7" y1="287.5" x2="599.5" y2="124.5" stroke="#333" stroke-width="1"/>
<g fill="#000">
<circle cx="353.77" cy="200.50" r="2.6"/>
<circle cx="366.70" cy="200.50" r="2.6"/>
<circle cx="431.38" cy="200.50" r="2.6"/>
<circle cx="444.31" cy="200.50" r="2.6"/>
<circle cx="457.25" cy="200.50" r="2.6"/>
<circle cx="483.12" cy="200.50" r="2.6"/>
<circle cx="496.05" cy="200.50" r="2.6"/>
<circle cx="508.99" cy="185.45" r="2.6"/>
<circle cx="521.92" cy="170.40" r="2.6"/>
<circle cx="534.86" cy="176.64" r="2.6"/>
<circle cx="547.79" cy="155.35" r="2.6"/>
<circle cx="560.73" cy="146.54" r="2.6"/>
<circle cx="573.66" cy="148.43" r="2.6"/>
<circle cx="586.60" cy="133.38" r="2.6"/>
<circle cx="599.53" cy="124.57" r="2.6"/>
</g>
<circle cx="526.6" cy="238.2" r="2.6" fill="#000"/>
<line x1="513.1" y1="254.3" x2="540.3" y2="254.3" stroke="#333" stroke-width="1"/>
<text x="547.3" y="242.9" font-family="Liberation Sans, sans-serif" font-size="12" textLength="52.6" lengthAdjust="spacingAndGlyphs" fill="#111">frequency</text>
<text x="547.3" y="258.7" font-family="Liberation Sans, sans-serif" font-size="12" textLength="42.9" lengthAdjust="spacingAndGlyphs" fill="#111">curve fit</text>
</svg></body></html>
